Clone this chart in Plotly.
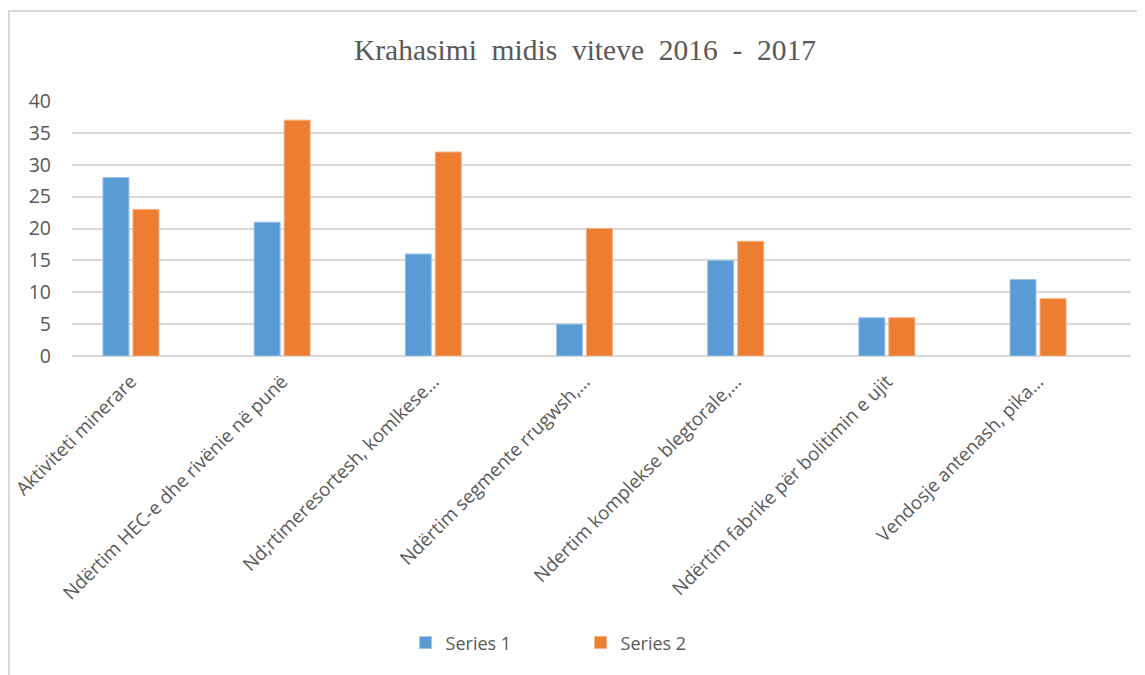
import plotly.graph_objects as go

categories = [
    "Aktiviteti minerare",
    "Ndërtim HEC-e dhe rivënie në punë",
    "Nd;rtimeresortesh, komlkese…",
    "Ndërtim segmente rrugwsh,…",
    "Ndertim komplekse blegtorale,…",
    "Ndërtim fabrike për bolitimin e ujit",
    "Vendosje antenash, pika…",
]
series_1 = [28, 21, 16, 5, 15, 6, 12]
series_2 = [23, 37, 32, 20, 18, 6, 9]
y_ticks = [0, 5, 10, 15, 20, 25, 30, 35, 40]

grey = "#595959"
font = "Open Sans, Calibri, sans-serif"

fig = go.Figure()
fig.add_trace(go.Bar(x=categories, y=series_1, name="Series 1",
                     marker=dict(color="#5B9BD5", line=dict(color="#9dc3e6", width=1))))
fig.add_trace(go.Bar(x=categories, y=series_2, name="Series 2",
                     marker=dict(color="#ED7D31", line=dict(color="#f4b183", width=1))))

# chart area frame, as in the Excel chart
fig.add_shape(type="rect", xref="paper", yref="paper",
              x0=-0.0595, x1=1.05, y0=-1.4, y1=1.353,
              line=dict(color="#d9d9d9", width=2), layer="below")

# page body has an 8px margin, so the figure is a bit smaller than the window
fig.update_layout(
    width=1137, height=667,
    margin=dict(l=64, r=14, t=93, b=319),
    paper_bgcolor="white", plot_bgcolor="white",
    barmode="group", bargap=0.603, bargroupgap=0.133,
    title=dict(text="Krahasimi  midis  viteve  2016  -  2017",
               font=dict(family="Liberation Serif, Times New Roman, serif", size=29.5, color=grey),
               x=0.5075, xanchor="center", y=0.937, yanchor="middle"),
    font=dict(family=font, color=grey),
    legend=dict(orientation="h", x=0.315, xanchor="left", y=-1.125, yanchor="middle",
                font=dict(size=18, color=grey), itemwidth=30, traceorder="normal",
                entrywidth=130),
    xaxis=dict(type="category", range=[-0.39, 6.615], tickangle=-45,
               tickfont=dict(size=18.7, color=grey), showgrid=False, automargin=False,
               showline=False, ticks="", ticklabelstandoff=10),
    yaxis=dict(range=[0, 40], tickvals=y_ticks, tickfont=dict(size=19.5, color=grey),
               showgrid=True, gridcolor="#d9d9d9", gridwidth=1.5, automargin=False,
               zeroline=True, zerolinecolor="#d9d9d9", zerolinewidth=1.5,
               showline=False, ticks="", ticklabelstandoff=20),
)

fig.write_html("out.html")
